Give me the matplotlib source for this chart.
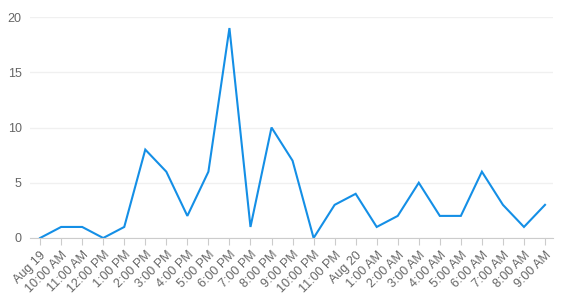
import matplotlib
matplotlib.use("Agg")
import matplotlib.pyplot as plt

plt.rcParams["font.family"] = ["Liberation Sans", "DejaVu Sans"]

labels = ["Aug 19", "10:00 AM", "11:00 AM", "12:00 PM", "1:00 PM", "2:00 PM", "3:00 PM",
          "4:00 PM", "5:00 PM", "6:00 PM", "7:00 PM", "8:00 PM", "9:00 PM", "10:00 PM",
          "11:00 PM", "Aug 20", "1:00 AM", "2:00 AM", "3:00 AM", "4:00 AM", "5:00 AM",
          "6:00 AM", "7:00 AM", "8:00 AM", "9:00 AM"]
values = [0, 1, 1, 0, 1, 8, 6, 2, 6, 19, 1, 10, 7, 0, 3, 4, 1, 2, 5, 2, 2, 6, 3, 1, 3]
yticks = [0, 5, 10, 15, 20]

fig = plt.figure(figsize=(5.64, 3.02), dpi=100)
ax = fig.add_axes([30/564, 64/302, (553-30)/564, (238-17)/302])
x = list(range(len(values)))
ax.plot(x, values, color="#148fe6", linewidth=1.5, solid_joinstyle="miter")
ax.set_xlim(-0.48, len(values) - 1 + 0.38)
ax.set_ylim(0, 20)
ax.set_yticks(yticks)
ax.set_xticks(x)
ax.set_xticklabels(labels, rotation=45, ha="right", rotation_mode="anchor")
for s in ["top", "right", "left"]:
    ax.spines[s].set_visible(False)
ax.spines["bottom"].set_color("#cccccc")
ax.grid(axis="y", color="#f0f0f0", linewidth=1)
ax.set_axisbelow(True)
ax.tick_params(axis="x", colors="#cccccc", labelcolor="#666666", labelsize=9, length=5, pad=3)
ax.tick_params(axis="y", length=0, labelcolor="#666666", labelsize=9, pad=6)
fig.savefig("out.png", dpi=100)
